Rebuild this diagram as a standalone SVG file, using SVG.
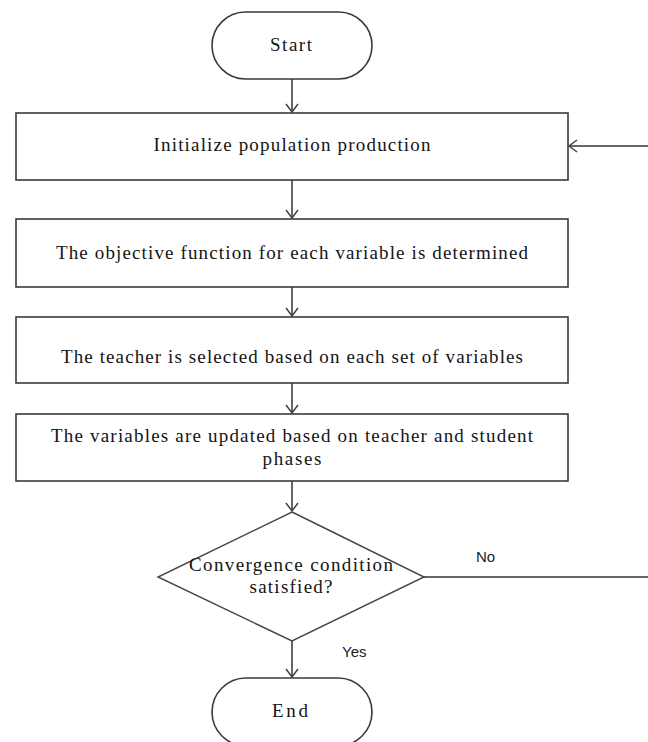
<svg xmlns="http://www.w3.org/2000/svg" width="648" height="742" viewBox="0 0 648 742">
<style>
.shape{fill:#fff;stroke:#3a3a3a;stroke-width:1.6}
.dia{fill:#fff;stroke:#444;stroke-width:1.4}
.conn{fill:none;stroke:#666;stroke-width:2}
.t{font-family:"Liberation Serif","Times New Roman",serif;font-size:19px;fill:#141414;text-anchor:middle}
.lbl{font-family:"Liberation Sans",Arial,sans-serif;font-size:15px;fill:#222}
</style>
<defs>
<marker id="arr" markerUnits="userSpaceOnUse" markerWidth="16" markerHeight="16" refX="9" refY="7" orient="auto">
<path d="M1,1 L9,7 L1,13" fill="none" stroke="#444" stroke-width="1.5"/>
</marker>
</defs>
<rect width="648" height="742" fill="#fff"/>
<g id="connectors">
<line class="conn" x1="292" y1="79" x2="292" y2="112" marker-end="url(#arr)"/>
<line class="conn" x1="292" y1="180" x2="292" y2="218" marker-end="url(#arr)"/>
<line class="conn" x1="292" y1="287" x2="292" y2="316" marker-end="url(#arr)"/>
<line class="conn" x1="292" y1="383" x2="292" y2="413" marker-end="url(#arr)"/>
<line class="conn" x1="292" y1="481" x2="292" y2="511" marker-end="url(#arr)"/>
<line class="conn" x1="292" y1="641" x2="292" y2="677" marker-end="url(#arr)"/>
<path class="conn" d="M424,577 H652 V146 H569" marker-end="url(#arr)"/>
<text class="lbl" x="476" y="562">No</text>
<text class="lbl" x="342" y="657">Yes</text>
</g>
<g id="start">
<rect class="shape" x="212" y="12" width="160" height="67" rx="33.5" ry="33.5"/>
<text class="t" x="291" y="51" textLength="42" lengthAdjust="spacing">Start</text>
</g>
<g id="init">
<rect class="shape" x="16" y="113" width="552" height="67"/>
<text class="t" x="292" y="151" textLength="277" lengthAdjust="spacing">Initialize population production</text>
</g>
<g id="objective">
<rect class="shape" x="16" y="219" width="552" height="68"/>
<text class="t" x="292" y="259" textLength="472" lengthAdjust="spacing">The objective function for each variable is determined</text>
</g>
<g id="teacher">
<rect class="shape" x="16" y="317" width="552" height="66"/>
<text class="t" x="292" y="363" textLength="462" lengthAdjust="spacing">The teacher is selected based on each set of variables</text>
</g>
<g id="update">
<rect class="shape" x="16" y="414" width="552" height="67"/>
<text class="t" x="292" y="442" textLength="482" lengthAdjust="spacing">The variables are updated based on teacher and student</text>
<text class="t" x="292" y="465" textLength="59" lengthAdjust="spacing">phases</text>
</g>
<g id="decision">
<polygon class="dia" points="292,512 424,577 292,641 158,577"/>
<text class="t" x="291" y="571" textLength="204" lengthAdjust="spacing">Convergence condition</text>
<text class="t" x="291" y="593" textLength="83" lengthAdjust="spacing">satisfied?</text>
</g>
<g id="end">
<rect class="shape" x="212" y="678" width="160" height="68" rx="34" ry="34"/>
<text class="t" x="290" y="717" textLength="36" lengthAdjust="spacing">End</text>
</g>
</svg>
